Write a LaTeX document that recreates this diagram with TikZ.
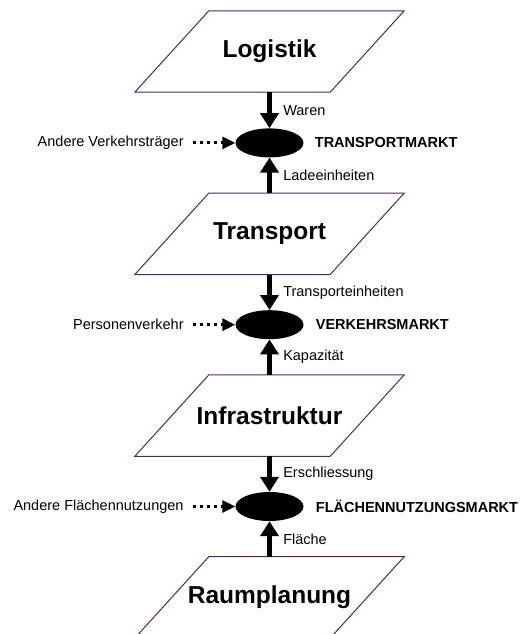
\documentclass[tikz,border=0pt]{standalone}
\usepackage{fontspec}
\setmainfont{Liberation Sans}
\usetikzlibrary{positioning,shapes.geometric,arrows.meta}
\definecolor{planecol}{RGB}{78,42,96}

\begin{document}
\begin{tikzpicture}[x=1pt,y=1pt,node distance=35.5pt,
  plane/.style={minimum width=195pt,minimum height=81pt,inner sep=0pt,
    font=\fontsize{24.5}{29}\selectfont\bfseries},
  planeline/.style={draw=planecol,line width=1pt},
  market/.style={ellipse,fill=black,minimum width=68pt,minimum height=29pt,inner sep=0pt},
  flow/.style={-{Triangle[length=15pt,width=18pt]},line width=4.5pt},
  other/.style={-{Triangle[length=13pt,width=12pt]},line width=3pt,
    dash pattern=on 3pt off 4pt,shorten <=8pt},
  lab/.style={anchor=west,xshift=10.5pt,inner sep=1pt,font=\fontsize{14.5}{17}\selectfont},
  side/.style={inner sep=1pt,font=\fontsize{14.5}{17}\selectfont},
  mname/.style={inner sep=1pt,font=\fontsize{14.5}{17}\selectfont\bfseries}]

  \useasboundingbox (0,0) rectangle (521,-634);

  \node[plane] (log) at (269.5,-51.5) {Logistik};
  \node[market] (tm) [below=36pt of log] {};
  \node[plane] (tra) [below=of tm] {Transport};
  \node[market] (vm) [below=of tra] {};
  \node[plane] (inf) [below=of vm] {Infrastruktur};
  \node[market] (fm) [below=of inf] {};
  \node[plane] (rau) [below=of fm] {Raumplanung};

  % slanted planes round the four layers
  \foreach \p in {log,tra,inf,rau}
    \draw[planeline] ([xshift=-37pt]\p.south west) -- ([xshift=-37pt]\p.south east)
      -- ([xshift=37pt]\p.north east) -- ([xshift=37pt]\p.north west) -- cycle;

  % markets: names on the right, other demand on the left
  \node[mname] (tmname) [right=10pt of tm] {TRANSPORTMARKT};
  \node[mname] (vmname) [right=11pt of vm] {VERKEHRSMARKT};
  \node[mname] (fmname) [right=11pt of fm] {FLÄCHENNUTZUNGSMARKT};
  \node[side] (avt) [left=50.5pt of tm] {Andere Verkehrsträger};
  \node[side] (pv) [left=50.5pt of vm] {Personenverkehr};
  \node[side] (afn) [left=50.5pt of fm] {Andere Flächennutzungen};

  \draw[flow] (log) -- node[lab] {Waren} (tm);
  \draw[flow] (tra) -- node[lab] {Ladeeinheiten} (tm);
  \draw[flow] (tra) -- node[lab] {Transporteinheiten} (vm);
  \draw[flow] (inf) -- node[lab] {Kapazität} (vm);
  \draw[flow] (inf) -- node[lab] {Erschliessung} (fm);
  \draw[flow] (rau) -- node[lab] {Fläche} (fm);

  \draw[other] (avt) -- (tm);
  \draw[other] (pv) -- (vm);
  \draw[other] (afn) -- (fm);
\end{tikzpicture}
\end{document}
